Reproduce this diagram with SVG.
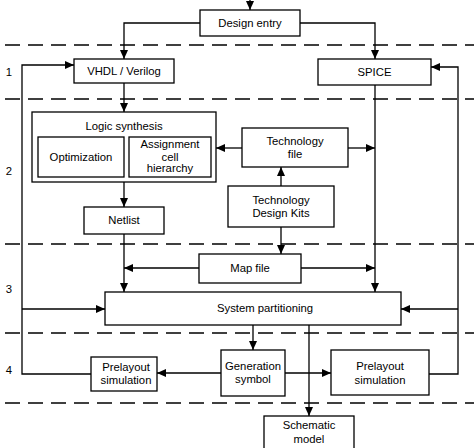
<svg xmlns="http://www.w3.org/2000/svg" width="474" height="448" viewBox="0 0 474 448">
<style>
.box{fill:#fff;stroke:#000;stroke-width:1.3}
.c{fill:none;stroke:#000;stroke-width:1.3}
.d{fill:none;stroke:#000;stroke-width:1.5;stroke-dasharray:15 8}
text{font-family:"Liberation Sans",Arial,sans-serif;font-size:11.3px;fill:#000;text-anchor:middle}
</style>
<defs>
<marker id="a" markerUnits="userSpaceOnUse" markerWidth="10" markerHeight="8" refX="9" refY="4" orient="auto">
<path d="M0,0 L9,4 L0,8 Z" fill="#000"/>
</marker>
</defs>
<rect width="474" height="448" fill="#fff"/>
<g id="separators">
<path class="d" d="M5,45 H474"/>
<path class="d" d="M5,99 H474"/>
<path class="d" d="M5,244 H474"/>
<path class="d" d="M5,333 H474"/>
<path class="d" d="M5,403 H474"/>
</g>
<g id="levels">
<text x="9" y="76">1</text>
<text x="9" y="175">2</text>
<text x="9" y="293">3</text>
<text x="9" y="374">4</text>
</g>
<g id="connectors">
<path class="c" d="M250,0 V10" marker-end="url(#a)"/>
<path class="c" d="M200,23 H124 V59" marker-end="url(#a)"/>
<path class="c" d="M300,23 H375 V59" marker-end="url(#a)"/>
<path class="c" d="M124,83 V112" marker-end="url(#a)"/>
<path class="c" d="M124,182 V207" marker-end="url(#a)"/>
<path class="c" d="M124,234 V292" marker-end="url(#a)"/>
<path class="c" d="M242,148 H216" marker-end="url(#a)"/>
<path class="c" d="M348,148 H375" marker-end="url(#a)"/>
<path class="c" d="M281,186 V167" marker-end="url(#a)"/>
<path class="c" d="M281,227 V254" marker-end="url(#a)"/>
<path class="c" d="M199,268 H124" marker-end="url(#a)"/>
<path class="c" d="M301,268 H375" marker-end="url(#a)"/>
<path class="c" d="M375,85 V292" marker-end="url(#a)"/>
<path class="c" d="M91,374 H22 V65 H74" marker-end="url(#a)"/>
<path class="c" d="M22,309 H105" marker-end="url(#a)"/>
<path class="c" d="M429,374 H458 V67 H431" marker-end="url(#a)"/>
<path class="c" d="M458,309 H401" marker-end="url(#a)"/>
<path class="c" d="M253,325 V350" marker-end="url(#a)"/>
<path class="c" d="M221,373 H157" marker-end="url(#a)"/>
<path class="c" d="M285,373 H331" marker-end="url(#a)"/>
<path class="c" d="M309,325 V416" marker-end="url(#a)"/>
</g>
<g id="design-entry">
<rect class="box" x="200" y="10" width="100" height="26"/>
<text x="250" y="27">Design entry</text>
</g>
<g id="vhdl">
<rect class="box" x="74" y="59" width="100" height="24"/>
<text x="124" y="75">VHDL / Verilog</text>
</g>
<g id="spice">
<rect class="box" x="318" y="59" width="113" height="26"/>
<text x="374.5" y="76">SPICE</text>
</g>
<g id="logic-synthesis">
<rect class="box" x="32" y="112" width="184" height="70"/>
<text x="124" y="130">Logic synthesis</text>
</g>
<g id="optimization">
<rect class="box" x="38" y="137" width="86" height="40"/>
<text x="81" y="161">Optimization</text>
</g>
<g id="assignment">
<rect class="box" x="129" y="137" width="82" height="40"/>
<text x="170" y="148">Assignment</text>
<text x="170" y="161">cell</text>
<text x="170" y="172">hierarchy</text>
</g>
<g id="netlist">
<rect class="box" x="84" y="207" width="80" height="27"/>
<text x="124" y="224">Netlist</text>
</g>
<g id="technology-file">
<rect class="box" x="242" y="128" width="106" height="39"/>
<text x="295" y="145">Technology</text>
<text x="295" y="158">file</text>
</g>
<g id="tdk">
<rect class="box" x="228" y="186" width="106" height="41"/>
<text x="281" y="204">Technology</text>
<text x="281" y="217">Design Kits</text>
</g>
<g id="map-file">
<rect class="box" x="199" y="254" width="102" height="29"/>
<text x="250" y="272">Map file</text>
</g>
<g id="system-partitioning">
<rect class="box" x="105" y="292" width="296" height="33"/>
<text x="265" y="312">System partitioning</text>
</g>
<g id="prelayout-left">
<rect class="box" x="91" y="357" width="66" height="34"/>
<text x="126" y="371">Prelayout</text>
<text x="126" y="384">simulation</text>
</g>
<g id="generation-symbol">
<rect class="box" x="221" y="350" width="64" height="46"/>
<text x="253" y="370">Generation</text>
<text x="253" y="383">symbol</text>
</g>
<g id="prelayout-right">
<rect class="box" x="331" y="350" width="98" height="45"/>
<text x="380" y="370">Prelayout</text>
<text x="380" y="384">simulation</text>
</g>
<g id="schematic-model">
<rect class="box" x="264" y="416" width="90" height="40"/>
<text x="309" y="429">Schematic</text>
<text x="309" y="443">model</text>
</g>
</svg>
